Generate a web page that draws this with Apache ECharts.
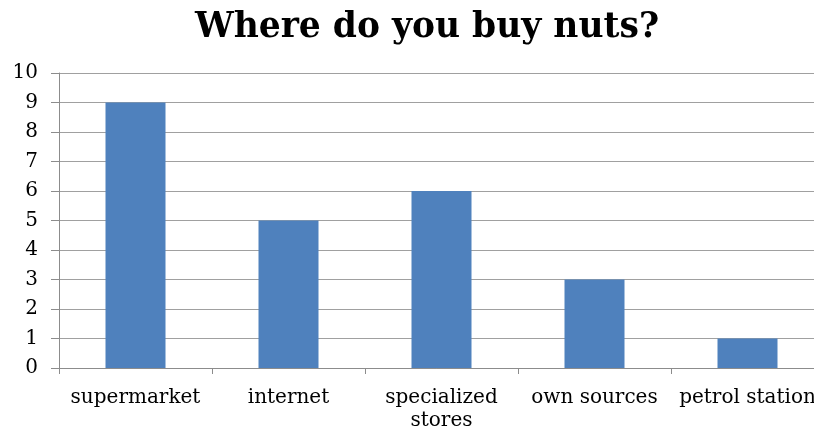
<!DOCTYPE html>
<html><head><meta charset="utf-8">
<script src="https://cdn.jsdelivr.net/npm/echarts@6/dist/echarts.min.js"></script>
<style>html,body{margin:0;padding:0;background:#fff}#c{width:814px;height:428px}</style>
</head><body><div id="c"></div>
<script>
const titleText = "Where do you buy nuts?";
const categories = ["supermarket", "internet", "specialized\nstores", "own sources", "petrol station"];
const values = [9, 5, 6, 3, 1];
const yMin = 0, yMax = 10, yStep = 1;

const chart = echarts.init(document.getElementById('c'), null, {renderer: 'canvas'});
const font = "'DejaVu Serif', serif";
chart.setOption({
  animation: false,
  title: {
    text: titleText, left: 422, top: 6, textAlign: 'center',
    textStyle: {fontFamily: font, fontWeight: 'bold', fontSize: 34.5, color: '#000'}
  },
  grid: {left: 59, top: 73, width: 765, height: 295, containLabel: false, outerBoundsMode: 'none'},
  xAxis: {
    type: 'category', data: categories,
    axisLine: {lineStyle: {color: '#8c8c8c', width: 1}},
    axisTick: {show: true, alignWithLabel: false, length: 6, lineStyle: {color: '#8c8c8c'}},
    axisLabel: {fontFamily: font, fontSize: 20, color: '#000', margin: 18, lineHeight: 23, interval: 0}
  },
  yAxis: {
    type: 'value', min: yMin, max: yMax, interval: yStep,
    axisLine: {show: true, lineStyle: {color: '#8c8c8c', width: 1}},
    axisTick: {show: true, length: 8, lineStyle: {color: '#8c8c8c'}},
    axisLabel: {fontFamily: font, fontSize: 20, color: '#000', margin: 21},
    splitLine: {lineStyle: {color: '#a0a0a0', width: 1}}
  },
  series: [{
    type: 'bar', data: values, barWidth: 60,
    itemStyle: {color: '#4f81bd'}
  }]
});
</script></body></html>
